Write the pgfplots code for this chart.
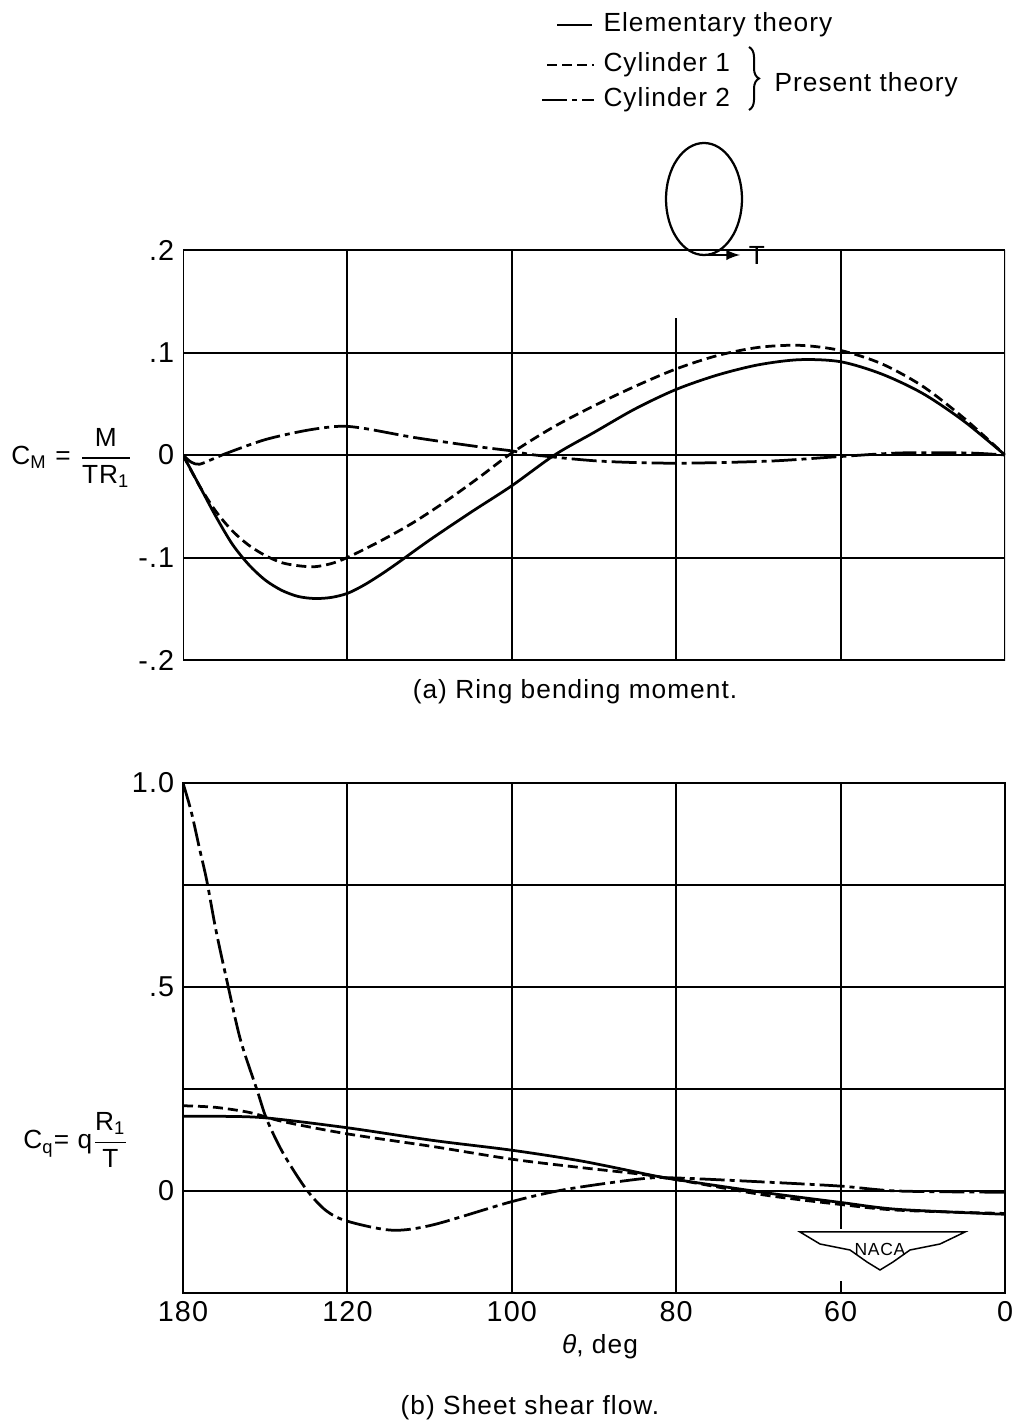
\documentclass[border=0pt]{standalone}
\usepackage{pgfplots}
\pgfplotsset{compat=1.18}
\usepackage{amsmath}
\usepackage{fontspec}
\setmainfont[LetterSpace=4]{Liberation Sans}
\usetikzlibrary{decorations.pathreplacing}

\pgfplotsset{
  naca/.style={
    scale only axis, width=328.8pt,
    xmin=0, xmax=5,
    tick style={draw=none},
    ymajorgrids, major grid style={black, line width=0.8pt},
    axis line style={line width=0.8pt},
    ticklabel style={font=\fontsize{11.5}{12}\selectfont},
  },
  elem/.style={black, line width=1.1pt, smooth},
  cylone/.style={black, line width=1.1pt, smooth, dash pattern=on 4pt off 2pt},
  cyltwo/.style={black, line width=1.1pt, smooth, dash pattern=on 10pt off 2pt on 2pt off 2pt},
}

\begin{document}
\begin{tikzpicture}
\useasboundingbox (0,0) rectangle (408pt,-568.8pt);

% (a) ring bending moment
\begin{axis}[naca, at={(73.2pt,-264pt)}, anchor=south west, height=164pt,
  ymin=-0.2, ymax=0.2,
  ytick={-0.2,-0.1,0,0.1,0.2}, yticklabels={-.2,-.1,0,.1,.2},
  xtick=\empty, axis line style={draw=none}]
\draw[line width=0.8pt] (2.58,0.2) -- (0,0.2) -- (0,-0.2) -- (5,-0.2) -- (5,0.2) -- (3.8,0.2);
\draw[line width=0.8pt] (1,-0.2) -- (1,0.2);
\draw[line width=0.8pt] (2,-0.2) -- (2,0.2);
\draw[line width=0.8pt] (3,-0.2) -- (3,0.134);
\draw[line width=0.8pt] (4,-0.2) -- (4,0.2);
\addplot[elem] coordinates {(0,0)(0.1,-0.03)(0.2,-0.06)(0.3,-0.087)(0.4,-0.107)(0.5,-0.122)(0.6,-0.132)(0.7,-0.138)(0.8,-0.14)(0.9,-0.139)(1.0,-0.135)(1.1,-0.127)(1.2,-0.117)(1.3,-0.106)(1.5,-0.083)(1.75,-0.056)(2.0,-0.03)(2.26,0)(2.5,0.022)(2.75,0.045)(3.0,0.064)(3.25,0.078)(3.5,0.088)(3.75,0.093)(4.0,0.091)(4.25,0.079)(4.5,0.06)(4.75,0.033)(5,0)};
\addplot[cylone] coordinates {(0,0)(0.1,-0.03)(0.2,-0.055)(0.3,-0.074)(0.4,-0.088)(0.5,-0.098)(0.6,-0.105)(0.7,-0.108)(0.8,-0.109)(0.9,-0.106)(1.0,-0.1)(1.2,-0.084)(1.4,-0.066)(1.6,-0.045)(1.8,-0.022)(2.0,0.002)(2.25,0.027)(2.5,0.048)(2.75,0.067)(3.0,0.084)(3.25,0.097)(3.5,0.105)(3.75,0.107)(4.0,0.102)(4.25,0.089)(4.5,0.067)(4.75,0.036)(5,0)};
\addplot[cyltwo] coordinates {(0,0)(0.05,-0.007)(0.1,-0.009)(0.18,-0.004)(0.27,0.002)(0.5,0.015)(0.75,0.024)(0.95,0.028)(1.1,0.026)(1.41,0.017)(1.8,0.008)(2.0,0.004)(2.14,0)(2.54,-0.006)(3.0,-0.008)(3.56,-0.006)(3.95,-0.002)(4.36,0.002)(4.77,0.002)(5,0)};
\end{axis}

% (b) sheet shear flow
\begin{axis}[naca, at={(73.2pt,-517.2pt)}, anchor=south west, height=204pt,
  ymin=-0.25, ymax=1,
  ytick={0,0.25,0.5,0.75,1}, yticklabels={0,,.5,,1.0},
  xtick={0,1,2,3,4,5}, xticklabels={180,120,100,80,60,0}]
\draw[line width=0.8pt] (1,-0.25) -- (1,1);
\draw[line width=0.8pt] (2,-0.25) -- (2,1);
\draw[line width=0.8pt] (3,-0.25) -- (3,1);
\draw[line width=0.8pt] (4,-0.093) -- (4,1);
\draw[line width=0.8pt] (4,-0.25) -- (4,-0.22);
\addplot[elem] coordinates {(0,0.183)(0.25,0.183)(0.51,0.179)(1.0,0.155)(1.52,0.124)(2.0,0.1)(2.43,0.073)(2.87,0.037)(3.0,0.028)(3.54,-0.004)(4.0,-0.028)(4.35,-0.045)(5,-0.057)};
\addplot[cylone] coordinates {(0,0.209)(0.2,0.205)(0.41,0.192)(0.61,0.17)(1.0,0.14)(1.52,0.109)(2.0,0.078)(2.43,0.057)(2.79,0.041)(3.0,0.028)(3.54,-0.01)(4.0,-0.033)(4.35,-0.047)(5,-0.055)};
\addplot[cyltwo] coordinates {(0,1.0)(0.05,0.93)(0.1,0.84)(0.145,0.76)(0.2,0.64)(0.27,0.51)(0.35,0.37)(0.45,0.248)(0.51,0.175)(0.61,0.092)(0.75,0.004)(0.87,-0.048)(1.0,-0.074)(1.27,-0.096)(1.52,-0.083)(2.0,-0.026)(2.33,0.004)(2.79,0.03)(3.0,0.032)(3.54,0.022)(4.0,0.012)(4.35,0.0)(5,-0.003)};
\end{axis}

% annotations, in reference pixels
\begin{scope}[x=0.4pt, y=-0.4pt, font=\fontsize{10.5}{12}\selectfont]
  % legend
  \draw[line width=1.1pt] (557,25) -- (592,25);
  \draw[line width=1.1pt, dash pattern=on 4pt off 2pt] (547,65) -- (594,65);
  \draw[line width=1.1pt, dash pattern=on 10pt off 2pt on 2pt off 2pt] (542,100) -- (594,100);
  \node[anchor=west, inner sep=0] at (603,25) {Elementary theory};
  \node[anchor=west, inner sep=0] at (603,65) {Cylinder 1};
  \node[anchor=west, inner sep=0] at (603,100) {Cylinder 2};
  \draw[line width=0.8pt, decorate, decoration={brace, amplitude=4pt}] (749,47) -- (749,110);
  \node[anchor=west, inner sep=0] at (774,85) {Present theory};
  % ring sketch
  \draw[line width=0.9pt] (704,199) ellipse [x radius=38, y radius=56];
  \draw[line width=0.9pt, -latex] (704,255) -- (740,255);
  \node[inner sep=0] at (757,255) {T};
  % axis titles
  \node at (72,458) {C\textsubscript{M} = $\dfrac{\text{M}}{\text{TR\textsubscript{1}}}$};
  \node at (76,1140) {C\textsubscript{q}= q$\dfrac{\text{R\textsubscript{1}}}{\text{T}}$};
  \node at (575,692) {(a) Ring bending moment.};
  \node at (600,1347) {\textit{θ}, deg};
  \node at (530,1408) {(b) Sheet shear flow.};
  % NACA emblem
  \draw[line width=0.6pt] (800,1232) -- (965,1232) -- (940,1244) -- (910,1250) -- (893,1262) -- (880,1270) -- (867,1262) -- (850,1250) -- (820,1244) -- cycle;
  \node[font=\fontsize{7}{8}\selectfont, inner sep=0] at (880,1249) {NACA};
\end{scope}
\end{tikzpicture}
\end{document}
